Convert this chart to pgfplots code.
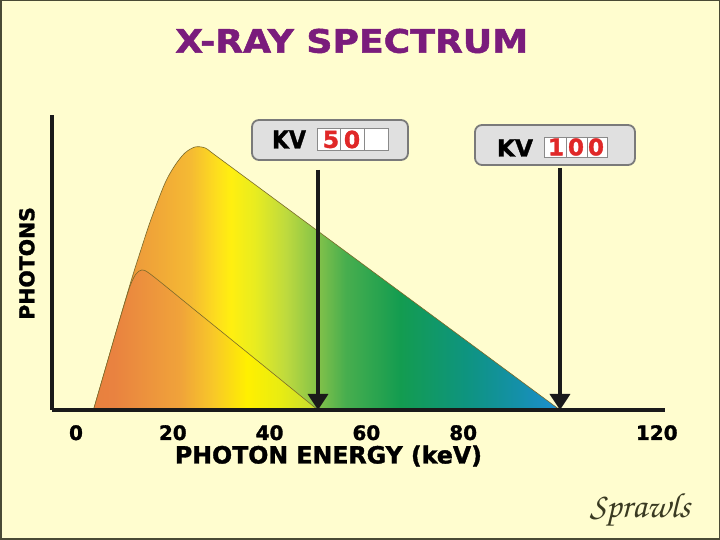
\documentclass[border=0pt]{standalone}
\usepackage[T1]{fontenc}
\usepackage{fontspec}
\setmainfont{DejaVu Sans}[BoldFeatures={FakeBold=1.5}]
\usepackage{graphicx}
\usepackage{pgfplots}
\pgfplotsset{compat=1.18}
\usetikzlibrary{arrows.meta}

\definecolor{bg}{HTML}{FFFDCF}
\definecolor{framecol}{HTML}{4A4A35}
\definecolor{titlecol}{HTML}{7A1C7C}
\definecolor{axiscol}{HTML}{1A1A1A}
\definecolor{outline}{HTML}{7A6A2A}
\definecolor{boxgray}{HTML}{E0E0E0}
\definecolor{boxedge}{HTML}{7A7A7A}
\definecolor{cellgray}{HTML}{8A8A8A}
\definecolor{digitred}{HTML}{E02828}
\definecolor{sigcol}{HTML}{3A3A22}

% 100 kV spectrum colours
\definecolor{b0}{HTML}{E8853C}
\definecolor{b1}{HTML}{EE9E3A}
\definecolor{b2}{HTML}{F5BA33}
\definecolor{b3}{HTML}{FDDD1E}
\definecolor{b4}{HTML}{FFEF10}
\definecolor{b5}{HTML}{E8EC20}
\definecolor{b6}{HTML}{BEDA3E}
\definecolor{b7}{HTML}{7EC04A}
\definecolor{b8}{HTML}{48AE4E}
\definecolor{b9}{HTML}{139C50}
\definecolor{b10}{HTML}{0E9480}
\definecolor{b11}{HTML}{1490A8}
\definecolor{b12}{HTML}{1E8ED2}
\pgfdeclarehorizontalshading{bigspec}{100bp}{%
color(0bp)=(b0); color(25bp)=(b0); color(30bp)=(b1); color(35.4bp)=(b2);
color(38.1bp)=(b3); color(39.7bp)=(b4); color(42.3bp)=(b5); color(45.6bp)=(b6);
color(49.3bp)=(b7); color(52bp)=(b8); color(57.9bp)=(b9); color(65bp)=(b10);
color(70.4bp)=(b11); color(75bp)=(b12); color(100bp)=(b12)}

% 50 kV spectrum colours
\definecolor{s0}{HTML}{E8803E}
\definecolor{s1}{HTML}{E98240}
\definecolor{s2}{HTML}{F0A33A}
\definecolor{s3}{HTML}{F8C828}
\definecolor{s4}{HTML}{FFF000}
\definecolor{s5}{HTML}{E8EC12}
\definecolor{s6}{HTML}{CDE02A}
\definecolor{s7}{HTML}{C0DC34}
\pgfdeclarehorizontalshading{smallspec}{100bp}{%
color(0bp)=(s0); color(25bp)=(s0); color(29.4bp)=(s1); color(44.3bp)=(s2);
color(51.7bp)=(s3); color(59.2bp)=(s4); color(66.6bp)=(s5); color(72.6bp)=(s6);
color(75bp)=(s7); color(100bp)=(s7)}

\begin{document}
\begin{tikzpicture}[x=1bp,y=1bp]
\fill[bg] (0,0) rectangle (720,540);
\draw[framecol, line width=1.5bp] (0.75,0.75) rectangle (719.25,539.25);

\begin{axis}[
  at={(52bp,130bp)}, anchor=south west,
  scale only axis, width=613bp, height=295bp,
  xmin=-4.96, xmax=121.7, ymin=0, ymax=295,
  axis x line*=bottom, axis y line*=left,
  axis line style={-, line width=3.5bp, axiscol},
  axis on top,
  xtick={0,20,40,60,80,120}, ytick=\empty,
  major tick length=0pt,
  /pgf/number format/assume math mode=true,
  xticklabel style={font=\bfseries\fontsize{20}{20}\selectfont, inner sep=0pt, anchor=north, yshift=-15bp},
  xlabel={\resizebox{307bp}{!}{\bfseries PHOTON ENERGY (keV)}},
  ylabel={\bfseries\fontsize{20.5}{21}\selectfont PHOTONS},
  every axis x label/.style={at={(axis description cs:0.451,-0.156)}, anchor=center},
  every axis y label/.style={at={(axis description cs:-0.041,0.497)}, anchor=center, rotate=90},
  every axis title shift=0pt,
  title={\resizebox{353bp}{24bp}{\bfseries X-RAY SPECTRUM}},
  title style={at={(axis description cs:0.489,1.251)}, anchor=center, text=titlecol},
]
% 100 kV spectrum
\addplot[smooth, draw=outline, line width=0.6bp, shading=bigspec, shade] coordinates {
 (3.6,0) (6.0,40) (8.7,85) (11.5,131) (13.6,163) (15.6,192) (18.4,227)
 (20.5,245) (22.5,257) (24.6,263) (26.7,262) (28.7,255) (40,214.6) (60,143.1) (80,71.6) (100,0)
} \closedcycle;
% 50 kV spectrum
\addplot[smooth, draw=outline, line width=0.6bp, shading=smallspec, shade] coordinates {
 (3.6,0) (6.0,40) (8.7,85) (10.7,117) (11.5,128) (12.4,136) (13.6,140) (15.6,135)
 (25,98.2) (37.5,49.2) (50,0)
} \closedcycle;
% kV arrows
\addplot[-{Triangle[width=20bp,length=16bp]}, line width=3.5bp, axiscol] coordinates {(50,240) (50,0)};
\addplot[-{Triangle[width=20bp,length=16bp]}, line width=3.5bp, axiscol] coordinates {(100,242) (100,0)};
\end{axis}

% KV 50 box
\filldraw[fill=boxgray, draw=boxedge, line width=1.8bp, rounded corners=7bp] (252,380) rectangle (408,420);
\filldraw[fill=white, draw=cellgray, line width=0.8bp] (317,390) rectangle (388,412);
\draw[cellgray, line width=0.8bp] (340,390) -- (340,412) (364,390) -- (364,412);
\node at (289,400.5) {\resizebox{34bp}{18bp}{\bfseries KV}};
\node[text=digitred, inner sep=0pt] at (331,400.5) {\bfseries\fontsize{23.5}{24}\selectfont 5};
\node[text=digitred, inner sep=0pt] at (352,400.5) {\bfseries\fontsize{23.5}{24}\selectfont 0};

% KV 100 box
\filldraw[fill=boxgray, draw=boxedge, line width=1.8bp, rounded corners=7bp] (475,375) rectangle (635,415);
\filldraw[fill=white, draw=cellgray, line width=0.8bp] (544,383) rectangle (607,403);
\draw[cellgray, line width=0.8bp] (566,383) -- (566,403) (587,383) -- (587,403);
\node at (515,392) {\resizebox{36bp}{17bp}{\bfseries KV}};
\node[text=digitred, inner sep=0pt] at (556,393) {\bfseries\fontsize{23}{24}\selectfont 1};
\node[text=digitred, inner sep=0pt] at (576,393) {\bfseries\fontsize{23}{24}\selectfont 0};
\node[text=digitred, inner sep=0pt] at (596,393) {\bfseries\fontsize{23}{24}\selectfont 0};

% signature
\node[text=sigcol] at (640,30) {\resizebox{100bp}{!}{\fontencoding{T1}\fontfamily{pzc}\fontseries{mb}\fontshape{it}\selectfont Sprawls}};
\end{tikzpicture}
\end{document}
